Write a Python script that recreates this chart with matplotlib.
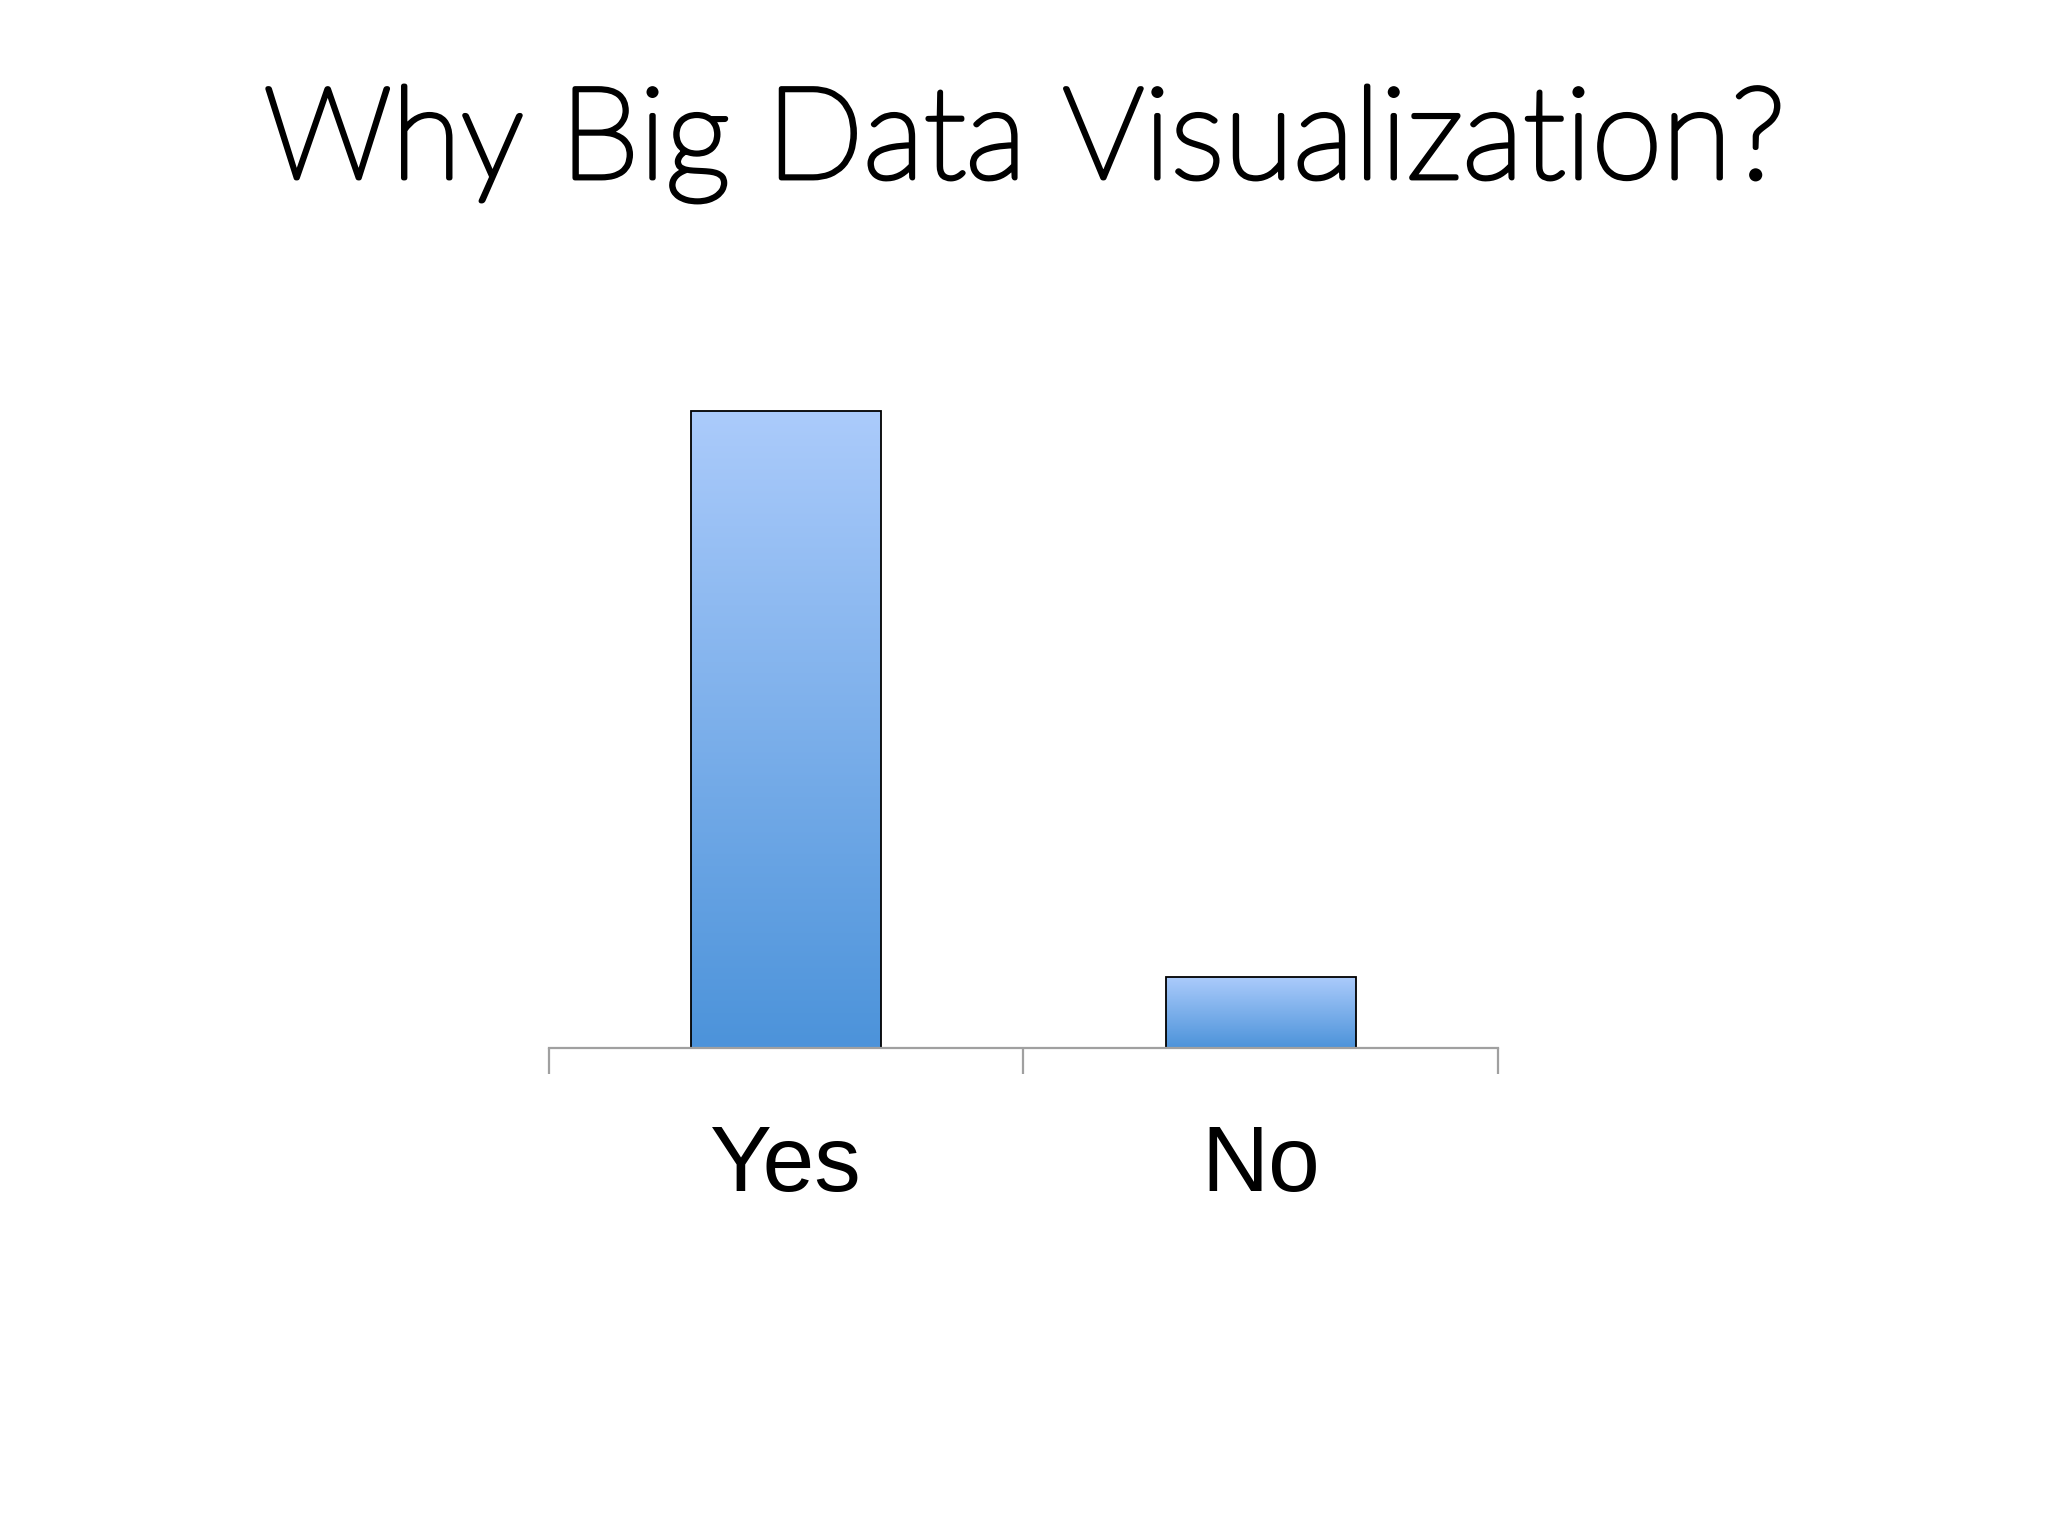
import numpy as np
import matplotlib
matplotlib.use('Agg')
import matplotlib.pyplot as plt
import matplotlib.patheffects as pe
from matplotlib.colors import LinearSegmentedColormap

categories = ['Yes', 'No']
values = [90, 10]

top_color = '#abcbfb'
bottom_color = '#4c93da'
grad = LinearSegmentedColormap.from_list('bar_grad', [bottom_color, top_color])

fig = plt.figure(figsize=(20.48, 15.36), dpi=100)
ax = fig.add_axes([0.268, 0.318, 0.4634, 0.4603])

x = np.arange(len(categories))
bars = ax.bar(x, values, width=0.4, facecolor='none', edgecolor='black',
              linewidth=1.3, zorder=3)

# vertical gradient inside each bar
g = np.linspace(0, 1, 256).reshape(-1, 1)
for bar in bars:
    x0, y0 = bar.get_x(), bar.get_y()
    w, h = bar.get_width(), bar.get_height()
    im = ax.imshow(g, cmap=grad, origin='lower', aspect='auto',
                   extent=[x0, x0 + w, y0, y0 + h], zorder=2)
    im.set_clip_path(bar)

ax.set_xlim(-0.5, len(categories) - 0.5)
ax.set_ylim(0, 100)

for s in ['top', 'right', 'left']:
    ax.spines[s].set_visible(False)
ax.spines['bottom'].set_color('#a0a0a0')
ax.spines['bottom'].set_linewidth(1.6)
ax.spines['bottom'].set_zorder(4)
ax.set_yticks([])

ax.set_xticks(x)
ax.set_xticklabels(categories, fontsize=67, fontfamily='Liberation Sans')
ax.tick_params(axis='x', which='major', length=0, pad=55)
ax.set_xticks(np.arange(-0.5, len(categories)), minor=True)
ax.tick_params(axis='x', which='minor', length=19, width=1.6, color='#a0a0a0',
               direction='out')

fig.text(0.5, 1 - 178 / 1536, 'Why Big Data Visualization?', ha='center',
         va='baseline', fontsize=92, fontfamily='Lato', fontweight='light',
         path_effects=[pe.withStroke(linewidth=3.5, foreground='black')])

fig.savefig('out.png', dpi=100, facecolor='white')
